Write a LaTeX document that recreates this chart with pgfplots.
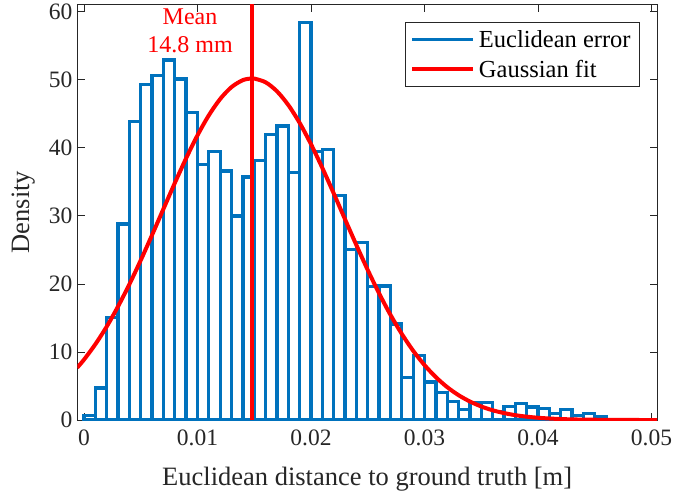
\documentclass[border=0pt]{standalone}
\usepackage{fontspec}
\setmainfont{Liberation Serif}
\usepackage{pgfplots}
\pgfplotsset{compat=1.18}
\definecolor{mblue}{rgb}{0,0.447,0.741}
\definecolor{axgray}{rgb}{0.15,0.15,0.15}

\begin{document}
\begin{tikzpicture}
\begin{axis}[
  scale only axis,
  width=579.7pt, height=415.7pt,
  xmin=-0.00059, xmax=0.050485,
  ymin=0, ymax=61.09,
  xtick={0,0.01,0.02,0.03,0.04,0.05},
  ytick={0,10,20,30,40,50,60},
  scaled x ticks=false,
  x tick label style={yshift=-6pt, /pgf/number format/fixed, /pgf/number format/precision=2},
  y tick label style={xshift=-1.5pt},
  /pgf/number format/assume math mode=true,
  tick label style={font=\fontsize{23.5}{28}\selectfont, text=axgray},
  tick align=inside,
  major tick length=7.5pt,
  axis line style={axgray, line width=0.8pt},
  tick style={axgray, line width=0.8pt},
  xlabel={Euclidean distance to ground truth [m]},
  ylabel={Density},
  every axis x label/.style={at={(axis description cs:0.5,-0.1417)}, anchor=center,
    font=\fontsize{26.5}{31}\selectfont, text=axgray},
  every axis y label/.style={at={(axis description cs:-0.0932,0.5)}, rotate=90, anchor=center,
    font=\fontsize{26.5}{31}\selectfont, text=axgray},
  legend style={at={(axis description cs:0.9707,0.9582)}, anchor=north east,
    draw=axgray, line width=0.8pt, fill=white,
    font=\fontsize{24.5}{29}\selectfont,
    inner xsep=5.5pt, inner ysep=5pt, row sep=5.7pt,
    cells={anchor=west},
    nodes={inner xsep=3.5pt, inner ysep=1.5pt, text height=19pt, text depth=2.3pt}},
  legend image code/.code={\draw[#1] (0pt,0pt) -- (61pt,0pt);},
]
\coordinate (ll) at (rel axis cs:0,0);
\coordinate (ur) at (rel axis cs:1,1);

% density-normalised histogram, bin width 1 mm
\addplot[ybar interval, draw=mblue, fill=white, line width=3.3pt, forget plot]
  coordinates {
  (0.000,0.7) (0.001,4.7) (0.002,15.1) (0.003,28.8) (0.004,43.9)
  (0.005,49.3) (0.006,50.6) (0.007,52.9) (0.008,50.1) (0.009,45.2)
  (0.010,37.5) (0.011,39.5) (0.012,36.6) (0.013,30.0) (0.014,35.7)
  (0.015,38.1) (0.016,42.0) (0.017,43.2) (0.018,36.4) (0.019,58.4)
  (0.020,39.5) (0.021,39.8) (0.022,33.0) (0.023,25.1) (0.024,26.1)
  (0.025,19.6) (0.026,19.7) (0.027,14.1) (0.028,6.2) (0.029,9.5)
  (0.030,5.6) (0.031,4.0) (0.032,2.7) (0.033,1.5) (0.034,2.6)
  (0.035,2.6) (0.036,1.3) (0.037,2.0) (0.038,2.4) (0.039,1.9)
  (0.040,1.7) (0.041,1.0) (0.042,1.5) (0.043,0.7) (0.044,1.0)
  (0.045,0.5) (0.046,0.5)
  };

% fitted normal density
\addplot[red, line width=4pt, smooth, forget plot] coordinates {
  (-0.0006,7.69) (0.000,8.87) (0.001,11.13) (0.002,13.73) (0.003,16.69)
  (0.004,19.95) (0.005,23.48) (0.006,27.20) (0.007,31.02) (0.008,34.82)
  (0.009,38.47) (0.010,41.84) (0.011,44.78) (0.012,47.18) (0.013,48.93)
  (0.014,49.95) (0.0148,50.20) (0.015,50.18) (0.016,49.63) (0.017,48.31)
  (0.018,46.29) (0.019,43.66) (0.020,40.53) (0.021,37.04) (0.022,33.31)
  (0.023,29.49) (0.024,25.70) (0.025,22.04) (0.026,18.61) (0.027,15.46)
  (0.028,12.65) (0.029,10.18) (0.030,8.07) (0.031,6.30) (0.032,4.83)
  (0.033,3.65) (0.034,2.72) (0.035,1.99) (0.036,1.43) (0.037,1.02)
  (0.038,0.71) (0.039,0.49) (0.040,0.33) (0.041,0.22) (0.042,0.14)
  (0.043,0.09) (0.044,0.06) (0.045,0.04) (0.046,0.02) (0.047,0.01)
  (0.048,0.01) (0.049,0.00) (0.050,0.00) (0.0505,0.00)
};

% mean marker
\addplot[red, line width=3.5pt, forget plot] coordinates {(0.0148,0) (0.0148,61.09)};
\node[red, align=center, anchor=north, inner sep=0pt,
      font=\fontsize{24}{28.3}\selectfont] at (axis cs:0.00934,60.5) {Mean\\14.8 mm};

\addlegendimage{mblue, line width=3.2pt}
\addlegendentry{Euclidean error}
\addlegendimage{red, line width=4pt}
\addlegendentry{Gaussian fit}
\end{axis}
\pgfresetboundingbox
\path[use as bounding box] ([xshift=-77.3pt,yshift=-75pt]ll) rectangle ([xshift=16pt,yshift=4.3pt]ur);
\end{tikzpicture}
\end{document}
